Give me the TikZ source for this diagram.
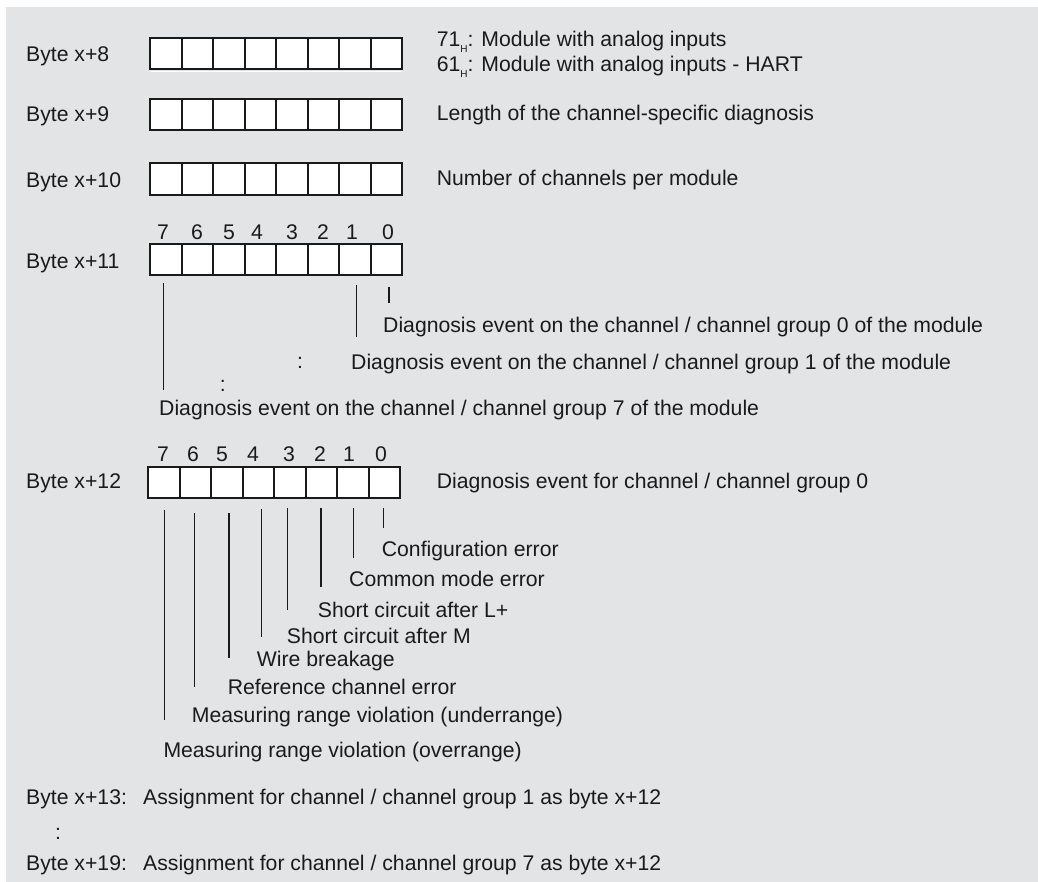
\documentclass[tikz,border=0pt]{standalone}
\usepackage{fontspec}
\setmainfont{Liberation Sans}
\definecolor{bg}{RGB}{227,228,230}
\definecolor{ink}{RGB}{26,26,26}
\newcommand\hsub[1]{\raisebox{-5.5pt}{\fontsize{10}{10}\selectfont #1}}
\begin{document}
\begin{tikzpicture}[x=1pt,y=-1pt,
  font=\fontsize{21.2}{25}\selectfont,
  txt/.style={anchor=base west, inner sep=0pt, text=ink},
  bitnum/.style={anchor=base, inner sep=0pt, text=ink},
  cell/.style={draw=ink, line width=2pt, fill=white, minimum width=31.5pt,
    minimum height=31.5pt, inner sep=0pt, outer sep=0pt, anchor=center},
  lead/.style={draw=ink, line width=1.1pt}]
\useasboundingbox (0,0) rectangle (1038,882);
\fill[bg] (6,7) rectangle (1038,882);

% byte boxes
\foreach \name/\lft/\cy in {b8/150/53.3, b9/150/114.3, b10/150/179, b11/150/259.5, b12/148/482.5} {
  \foreach \i in {0,...,7} {
    \node[cell] (\name c\i) at ({\lft+15.75+\i*31.5},\cy) {};
  }
}
\draw[white, line width=1.2pt] (150,71.6) -- (402,71.6);

% byte labels
\node[txt] (l8)  at (26,61.5) {Byte x+8};
\node[txt] (l9)  at (26,122)  {Byte x+9};
\node[txt] (l10) at (26,187.5){Byte x+10};
\node[txt] (l11) at (26,269)  {Byte x+11};
\node[txt] (l12) at (26,488)  {Byte x+12};

% descriptions
\node[txt] (d8a) at (436.7,47) {71\hsub{H}: Module with analog inputs};
\node[txt] (d8b) at (436.7,72) {61\hsub{H}: Module with analog inputs - HART};
\node[txt] (d9)  at (436.7,121) {Length of the channel-specific diagnosis};
\node[txt] (d10) at (436.7,186) {Number of channels per module};
\node[txt] (d12) at (436.7,488) {Diagnosis event for channel / channel group 0};

% bit numbers
\foreach \n/\x in {7/163,6/197,5/229,4/257,3/292,2/323,1/352,0/388}
  \node[bitnum] (n11b\n) at (\x,239.6) {\n};
\foreach \n/\x in {7/163,6/193,5/222,4/253,3/289,2/320,1/349,0/381}
  \node[bitnum] (n12b\n) at (\x,461.6) {\n};

% byte x+11 explanation
\node[txt] (g0) at (383,332)   {Diagnosis event on the channel / channel group 0 of the module};
\node[txt] (g1) at (351,369)   {Diagnosis event on the channel / channel group 1 of the module};
\node[txt] (g7) at (159,415.5) {Diagnosis event on the channel / channel group 7 of the module};
\node[bitnum] (dotsA) at (300,368.5) {:};
\node[bitnum] (dotsB) at (222.7,391.5) {:};
\foreach \b/\x/\ya/\yb in {7/163.3/283/390, 1/356.7/285/336.7, 0/389/287/302.7} {
  \coordinate (s11b\b) at (\x,\ya);
  \coordinate (e11b\b) at (\x,\yb);
  \draw[lead] (s11b\b) -- (e11b\b);
}

% byte x+12 explanation
\node[txt] (e0) at (381.7,556.6) {Configuration error};
\node[txt] (e1) at (349,586.6)   {Common mode error};
\node[txt] (e2) at (317.7,617.6) {Short circuit after L+};
\node[txt] (e3) at (286.7,643.3) {Short circuit after M};
\node[txt] (e4) at (256.7,666)   {Wire breakage};
\node[txt] (e5) at (227.7,694.3) {Reference channel error};
\node[txt] (e6) at (191.7,722)   {Measuring range violation (underrange)};
\node[txt] (e7) at (163.3,757.6) {Measuring range violation (overrange)};
\foreach \b/\x/\ya/\yb in {7/164.3/510/720, 6/194.3/513/686.7, 5/229/513/658,
  4/261.7/509/637, 3/287.3/508/610, 2/321/508/586.7, 1/353.3/508/557.7, 0/383.3/508/528} {
  \coordinate (s12b\b) at (\x,\ya);
  \coordinate (e12b\b) at (\x,\yb);
  \draw[lead] (s12b\b) -- (e12b\b);
}

% following bytes
\node[txt] (l13) at (26,804.6)  {Byte x+13:};
\node[txt] (a13) at (143,804.6) {Assignment for channel / channel group 1 as byte x+12};
\node[bitnum] (dotsC) at (58,839.5) {:};
\node[txt] (l19) at (26,870.6)  {Byte x+19:};
\node[txt] (a19) at (143,870.6) {Assignment for channel / channel group 7 as byte x+12};
\end{tikzpicture}
\end{document}
